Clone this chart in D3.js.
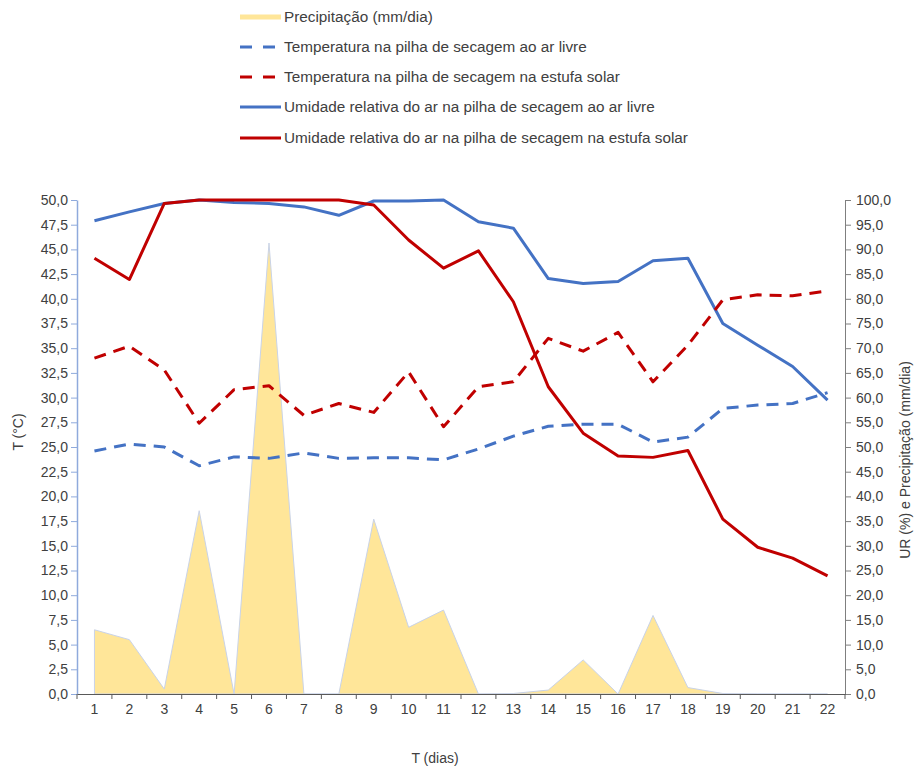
<!DOCTYPE html>
<html>
<head>
<meta charset="utf-8">
<script src="https://cdn.jsdelivr.net/npm/d3@7"></script>
<style>
  body { margin: 0; background: #fff; }
  svg text { font-family: "Liberation Sans", Arial, sans-serif; fill: #404040; }
</style>
</head>
<body>
<div id="chart"></div>
<script>
// days on the x axis
var days = d3.range(1, 23);

// precipitation, mm/dia (right axis)
var precip = [13.0, 11.0, 1.0, 37.1, 0.0, 91.3, 0.0, 0.0, 35.4, 13.5, 17.0,
              0.0, 0.1, 0.8, 6.9, 0.0, 15.9, 1.3, 0.1, 0.0, 0.0, 0.0];
// temperature in the pile, outdoors (left axis, °C)
var tempLivre = [24.6, 25.3, 25.0, 23.1, 24.0, 23.85, 24.4, 23.85, 23.9, 23.9, 23.7,
                 24.8, 26.1, 27.1, 27.3, 27.3, 25.5, 26.0, 28.9, 29.25, 29.4, 30.5];
// temperature in the pile, solar greenhouse
var tempEstufa = [34.0, 35.2, 32.8, 27.4, 30.8, 31.2, 28.2, 29.4, 28.5, 32.6, 27.05,
                  31.1, 31.6, 36.0, 34.7, 36.6, 31.6, 35.3, 39.9, 40.4, 40.3, 40.8];
// relative humidity, outdoors (right axis, %)
var urLivre = [95.8, 97.6, 99.3, 100.0, 99.5, 99.3, 98.6, 96.9, 99.8, 99.8, 100.0,
               95.6, 94.3, 84.1, 83.1, 83.5, 87.7, 88.2, 75.0, 70.6, 66.3, 59.5];
// relative humidity, solar greenhouse
var urEstufa = [88.2, 83.9, 99.3, 100.0, 100.0, 100.0, 100.0, 100.0, 99.0, 91.9, 86.2,
                89.7, 79.4, 62.2, 52.8, 48.2, 47.9, 49.3, 35.4, 29.7, 27.5, 23.9];

var leftTicks = d3.range(0, 50.01, 2.5);
var rightTicks = d3.range(0, 100.01, 5);

var legendLabels = [
  "Precipitação (mm/dia)",
  "Temperatura na pilha de secagem ao ar livre",
  "Temperatura na pilha de secagem na estufa solar",
  "Umidade relativa do ar na pilha de secagem ao ar livre",
  "Umidade relativa do ar na pilha de secagem na estufa solar"
];

var blue = "#4472C4", red = "#C00000", yellow = "#FFE699";

var width = 914, height = 768,
    margin = {top: 200, right: 69, bottom: 74, left: 77};

var svg = d3.select("#chart").append("svg")
  .attr("width", width)
  .attr("height", height);

var x = d3.scaleBand().domain(days).range([margin.left, width - margin.right]);
var xc = function(d) { return x(d) + x.bandwidth() / 2; };
var yL = d3.scaleLinear().domain([0, 50]).range([height - margin.bottom, margin.top]);
var yR = d3.scaleLinear().domain([0, 100]).range([height - margin.bottom, margin.top]);

var fmt = function(v) { return d3.format(".1f")(v).replace(".", ","); };

// precipitation area
var area = d3.area()
  .x(function(d, i) { return xc(days[i]); })
  .y0(yR(0))
  .y1(function(d) { return yR(d); });

svg.append("path")
  .attr("d", area(precip))
  .attr("fill", yellow)
  .attr("stroke", "#C9D3E8")
  .attr("stroke-width", 1);

// axes
var axL = svg.append("g")
  .attr("transform", "translate(" + margin.left + ",0)")
  .call(d3.axisLeft(yL).tickValues(leftTicks).tickFormat(fmt).tickSize(6).tickSizeOuter(0));
axL.select(".domain").attr("stroke", "#8FAADC").attr("stroke-width", 1.5);
axL.selectAll(".tick line").attr("stroke", "#8FAADC");
axL.selectAll("text").attr("font-size", "14px").attr("x", -9);

var axR = svg.append("g")
  .attr("transform", "translate(" + (width - margin.right) + ",0)")
  .call(d3.axisRight(yR).tickValues(rightTicks).tickFormat(fmt).tickSize(6).tickSizeOuter(0));
axR.select(".domain").attr("stroke", "#7F7F7F");
axR.selectAll(".tick line").attr("stroke", "#7F7F7F");
axR.selectAll("text").attr("font-size", "14px").attr("x", 11);

var axX = svg.append("g")
  .attr("transform", "translate(0," + (height - margin.bottom) + ")")
  .call(d3.axisBottom(x).tickSize(0).tickPadding(10));
axX.select(".domain").attr("stroke", "#595959").attr("stroke-width", 1.2);
axX.selectAll("text").attr("font-size", "14px");
// x tick marks sit between the categories
axX.selectAll(".sep")
  .data(days.concat([23]))
  .enter().append("line")
  .attr("class", "sep")
  .attr("x1", function(d) { return d === 23 ? width - margin.right : x(d); })
  .attr("x2", function(d) { return d === 23 ? width - margin.right : x(d); })
  .attr("y1", 0).attr("y2", 5)
  .attr("stroke", "#595959");

// lines
var line = function(scale) {
  return d3.line()
    .x(function(d, i) { return xc(days[i]); })
    .y(function(d) { return scale(d); });
};

var series = [
  {vals: urLivre, scale: yR, color: blue, dash: null},
  {vals: urEstufa, scale: yR, color: red, dash: null},
  {vals: tempLivre, scale: yL, color: blue, dash: "12,8"},
  {vals: tempEstufa, scale: yL, color: red, dash: "12,8"}
];
series.forEach(function(s) {
  svg.append("path")
    .attr("d", line(s.scale)(s.vals))
    .attr("fill", "none")
    .attr("stroke", s.color)
    .attr("stroke-width", 3)
    .attr("stroke-linejoin", "round")
    .attr("stroke-dasharray", s.dash);
});

// axis titles
svg.append("text")
  .attr("x", 435).attr("y", 763)
  .attr("text-anchor", "middle")
  .attr("font-size", "14px")
  .text("T (dias)");

svg.append("text")
  .attr("transform", "translate(23,432) rotate(-90)")
  .attr("text-anchor", "middle")
  .attr("font-size", "14px")
  .text("T (°C)");

svg.append("text")
  .attr("transform", "translate(910,460) rotate(-90)")
  .attr("text-anchor", "middle")
  .attr("font-size", "14px")
  .text("UR (%) e Precipitação (mm/dia)");

// legend
var legendY = [17, 47, 77, 107, 138];
var legendStyle = [
  {color: yellow, dash: null, w: 5},
  {color: blue, dash: "12,11", w: 3},
  {color: red, dash: "12,11", w: 3},
  {color: blue, dash: null, w: 3},
  {color: red, dash: null, w: 3}
];
var lg = svg.append("g");
legendLabels.forEach(function(lbl, i) {
  lg.append("line")
    .attr("x1", 240).attr("x2", 281)
    .attr("y1", legendY[i]).attr("y2", legendY[i])
    .attr("stroke", legendStyle[i].color)
    .attr("stroke-width", legendStyle[i].w)
    .attr("stroke-dasharray", legendStyle[i].dash);
  lg.append("text")
    .attr("x", 284).attr("y", legendY[i] + 5)
    .attr("font-size", "15.3px")
    .attr("fill", "#262626")
    .text(lbl);
});
</script>
</body>
</html>
